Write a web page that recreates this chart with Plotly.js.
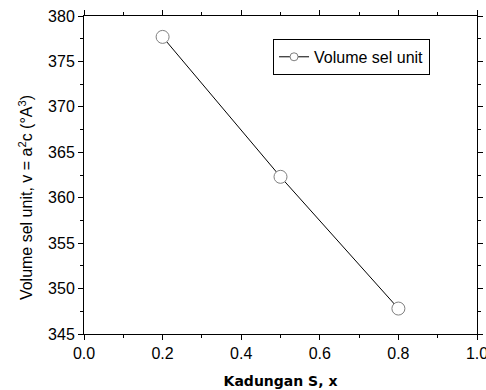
<!DOCTYPE html>
<html>
<head>
<script src="https://cdn.plot.ly/plotly-3.0.1.min.js"></script>
<style>body{margin:0;padding:0;background:#fff;}#chart{width:486px;height:390px;}</style>
</head>
<body>
<div id="chart"></div>
<script>
const kadungan = [0.2, 0.5, 0.8];
const volume = [377.7, 362.3, 347.8];
const seriesName = 'Volume sel unit';
const xTicks = [0, 0.2, 0.4, 0.6, 0.8, 1.0];
const xTickLabels = ['0.0', '0.2', '0.4', '0.6', '0.8', '1.0'];
const yTitle = 'Volume sel unit, v = a<sup>2</sup>c (°A<sup>3</sup>)';
const xTitle = '<b>Kadungan S, x</b>';

const trace = {
  x: kadungan, y: volume, name: seriesName,
  type: 'scatter', mode: 'lines+markers',
  line: {color: '#000', width: 1},
  marker: {symbol: 'circle', size: 13, color: '#fff', line: {color: '#808080', width: 1}},
  showlegend: false
};
// legend entry with the smaller symbol used in the reference legend
const legendEntry = {
  x: [null], y: [null], name: seriesName,
  type: 'scatter', mode: 'lines+markers',
  line: {color: '#000', width: 1},
  marker: {symbol: 'circle', size: 8, color: '#fff', line: {color: '#808080', width: 1}},
  showlegend: true, hoverinfo: 'skip'
};

const fam = 'Liberation Sans, Arial, sans-serif';
const axisCommon = {
  showline: true, linecolor: '#000', linewidth: 1, mirror: 'ticks',
  ticks: 'outside', ticklen: 5, tickwidth: 1, tickcolor: '#000',
  showgrid: false, zeroline: false, ticklabeloverflow: 'allow',
  tickfont: {family: fam, size: 16, color: '#000'}
};

const layout = {
  width: 486, height: 390,
  margin: {l: 84, r: 9, t: 16, b: 56},
  paper_bgcolor: '#fff', plot_bgcolor: '#fff',
  showlegend: true,
  xaxis: Object.assign({}, axisCommon, {
    range: [0, 1], tickmode: 'array', tickvals: xTicks, ticktext: xTickLabels,
    minor: {dtick: 0.1, ticks: 'outside', ticklen: 3, tickcolor: '#000'},
    title: {text: xTitle, standoff: 14,
      font: {family: 'DejaVu Sans, sans-serif', size: 14, color: '#000'}}
  }),
  yaxis: Object.assign({}, axisCommon, {
    range: [345, 380], dtick: 5,
    minor: {dtick: 2.5, ticks: 'outside', ticklen: 3, tickcolor: '#000'}
  }),
  annotations: [{
    text: yTitle, xref: 'paper', yref: 'paper', x: -0.148, y: 0.43,
    xanchor: 'center', yanchor: 'middle', textangle: -90, showarrow: false,
    font: {family: fam, size: 16, color: '#000'}
  }],
  legend: {
    x: 0.481, y: 0.928, xanchor: 'left', yanchor: 'top',
    bordercolor: '#000', borderwidth: 1, bgcolor: '#fff',
    font: {family: fam, size: 16, color: '#000'},
    itemwidth: 30
  }
};

Plotly.newPlot('chart', [trace, legendEntry], layout, {displayModeBar: false, staticPlot: true});
</script>
</body>
</html>
